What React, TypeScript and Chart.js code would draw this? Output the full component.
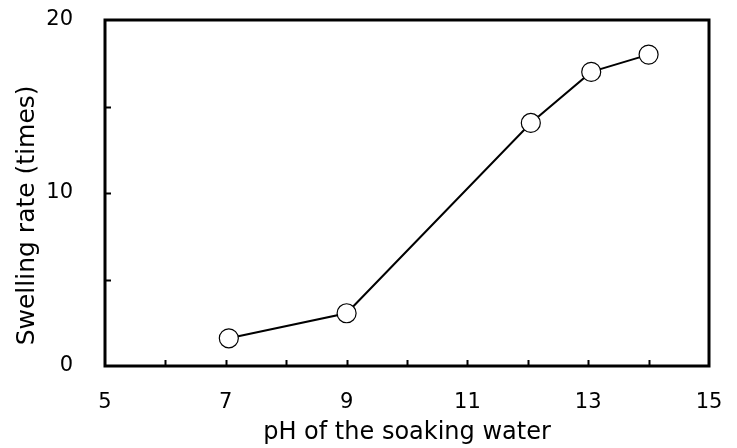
import React, { useEffect, useRef } from "react";
import { Chart, registerables } from "chart.js";

Chart.register(...registerables);

const phValues = [7.05, 9.0, 12.05, 13.05, 14.0];
const swellingRates = [1.6, 3.05, 14.05, 17.0, 18.0];
const xLabelValues = [5, 7, 9, 11, 13, 15];
const yLabelValues = [0, 10, 20];
const xTitle = "pH of the soaking water";
const yTitle = "Swelling rate (times)";

const FONT = "'DejaVu Sans', Verdana, sans-serif";

const framePlugin = {
  id: "frameTicks",
  afterDraw(chart: any) {
    const { ctx, chartArea } = chart;
    const { left, right, top, bottom } = chartArea;
    ctx.save();
    ctx.strokeStyle = "#000";
    ctx.lineWidth = 2;
    const xs = chart.scales.x;
    const ys = chart.scales.y;
    ctx.beginPath();
    xs.ticks.forEach((t: any) => {
      const px = Math.round(xs.getPixelForValue(t.value)) + 0.5;
      if (px > left + 2 && px < right - 2) {
        ctx.moveTo(px, bottom);
        ctx.lineTo(px, bottom - 6);
      }
    });
    ys.ticks.forEach((t: any) => {
      const py = Math.round(ys.getPixelForValue(t.value)) + 0.5;
      if (py > top + 2 && py < bottom - 2) {
        ctx.moveTo(left, py);
        ctx.lineTo(left + 6, py);
      }
    });
    ctx.stroke();
    ctx.lineWidth = 3;
    ctx.strokeRect(left, top, right - left, bottom - top);
    ctx.restore();
  },
};

export default function App() {
  const ref = useRef<HTMLCanvasElement | null>(null);
  useEffect(() => {
    if (!ref.current) return;
    const chart = new Chart(ref.current, {
      type: "scatter",
      data: {
        datasets: [
          {
            data: phValues.map((x, i) => ({ x, y: swellingRates[i] })),
            showLine: true,
            borderColor: "#000",
            borderWidth: 2,
            pointRadius: 9.5,
            pointBorderWidth: 1.2,
            pointBackgroundColor: "#fff",
            pointBorderColor: "#000",
          },
        ],
      },
      plugins: [framePlugin],
      options: {
        animation: false,
        responsive: false,
        maintainAspectRatio: false,
        layout: { padding: { top: 20, right: 28, left: 0, bottom: 0 } },
        plugins: { legend: { display: false }, tooltip: { enabled: false } },
        scales: {
          x: {
            type: "linear",
            min: 5,
            max: 15,
            afterFit(scale: any) {
              scale.height = 82;
              scale.paddingLeft = 0;
              scale.paddingRight = 0;
            },
            ticks: {
              stepSize: 1,
              autoSkip: false,
              maxRotation: 0,
              padding: 16,
              color: "#000",
              font: { family: FONT, size: 21 },
              callback: (v: any) => (xLabelValues.includes(Number(v)) ? String(v) : ""),
            },
            grid: { display: false },
            border: { display: false },
            title: {
              display: true,
              text: xTitle,
              color: "#000",
              font: { family: FONT, size: 24 },
              padding: { top: 0, bottom: 1 },
            },
          },
          y: {
            type: "linear",
            min: 0,
            max: 20,
            afterFit(scale: any) {
              scale.width = 105;
              scale.paddingTop = 0;
              scale.paddingBottom = 0;
            },
            ticks: {
              stepSize: 5,
              autoSkip: false,
              padding: 24,
              color: "#000",
              font: { family: FONT, size: 21 },
              callback: (v: any) => (yLabelValues.includes(Number(v)) ? String(v) : ""),
            },
            grid: { display: false },
            border: { display: false },
            title: {
              display: true,
              text: yTitle + "     \u2009",
              color: "#000",
              font: { family: FONT, size: 25 },
              padding: { top: 12, bottom: 0 },
            },
          },
        },
      },
    } as any);
    return () => chart.destroy();
  }, []);
  return (
    <div style={{ position: "fixed", left: 0, top: 0, width: 737, height: 448, background: "#fff" }}>
      <canvas ref={ref} width={737} height={448} style={{ width: 737, height: 448 }} />
    </div>
  );
}
